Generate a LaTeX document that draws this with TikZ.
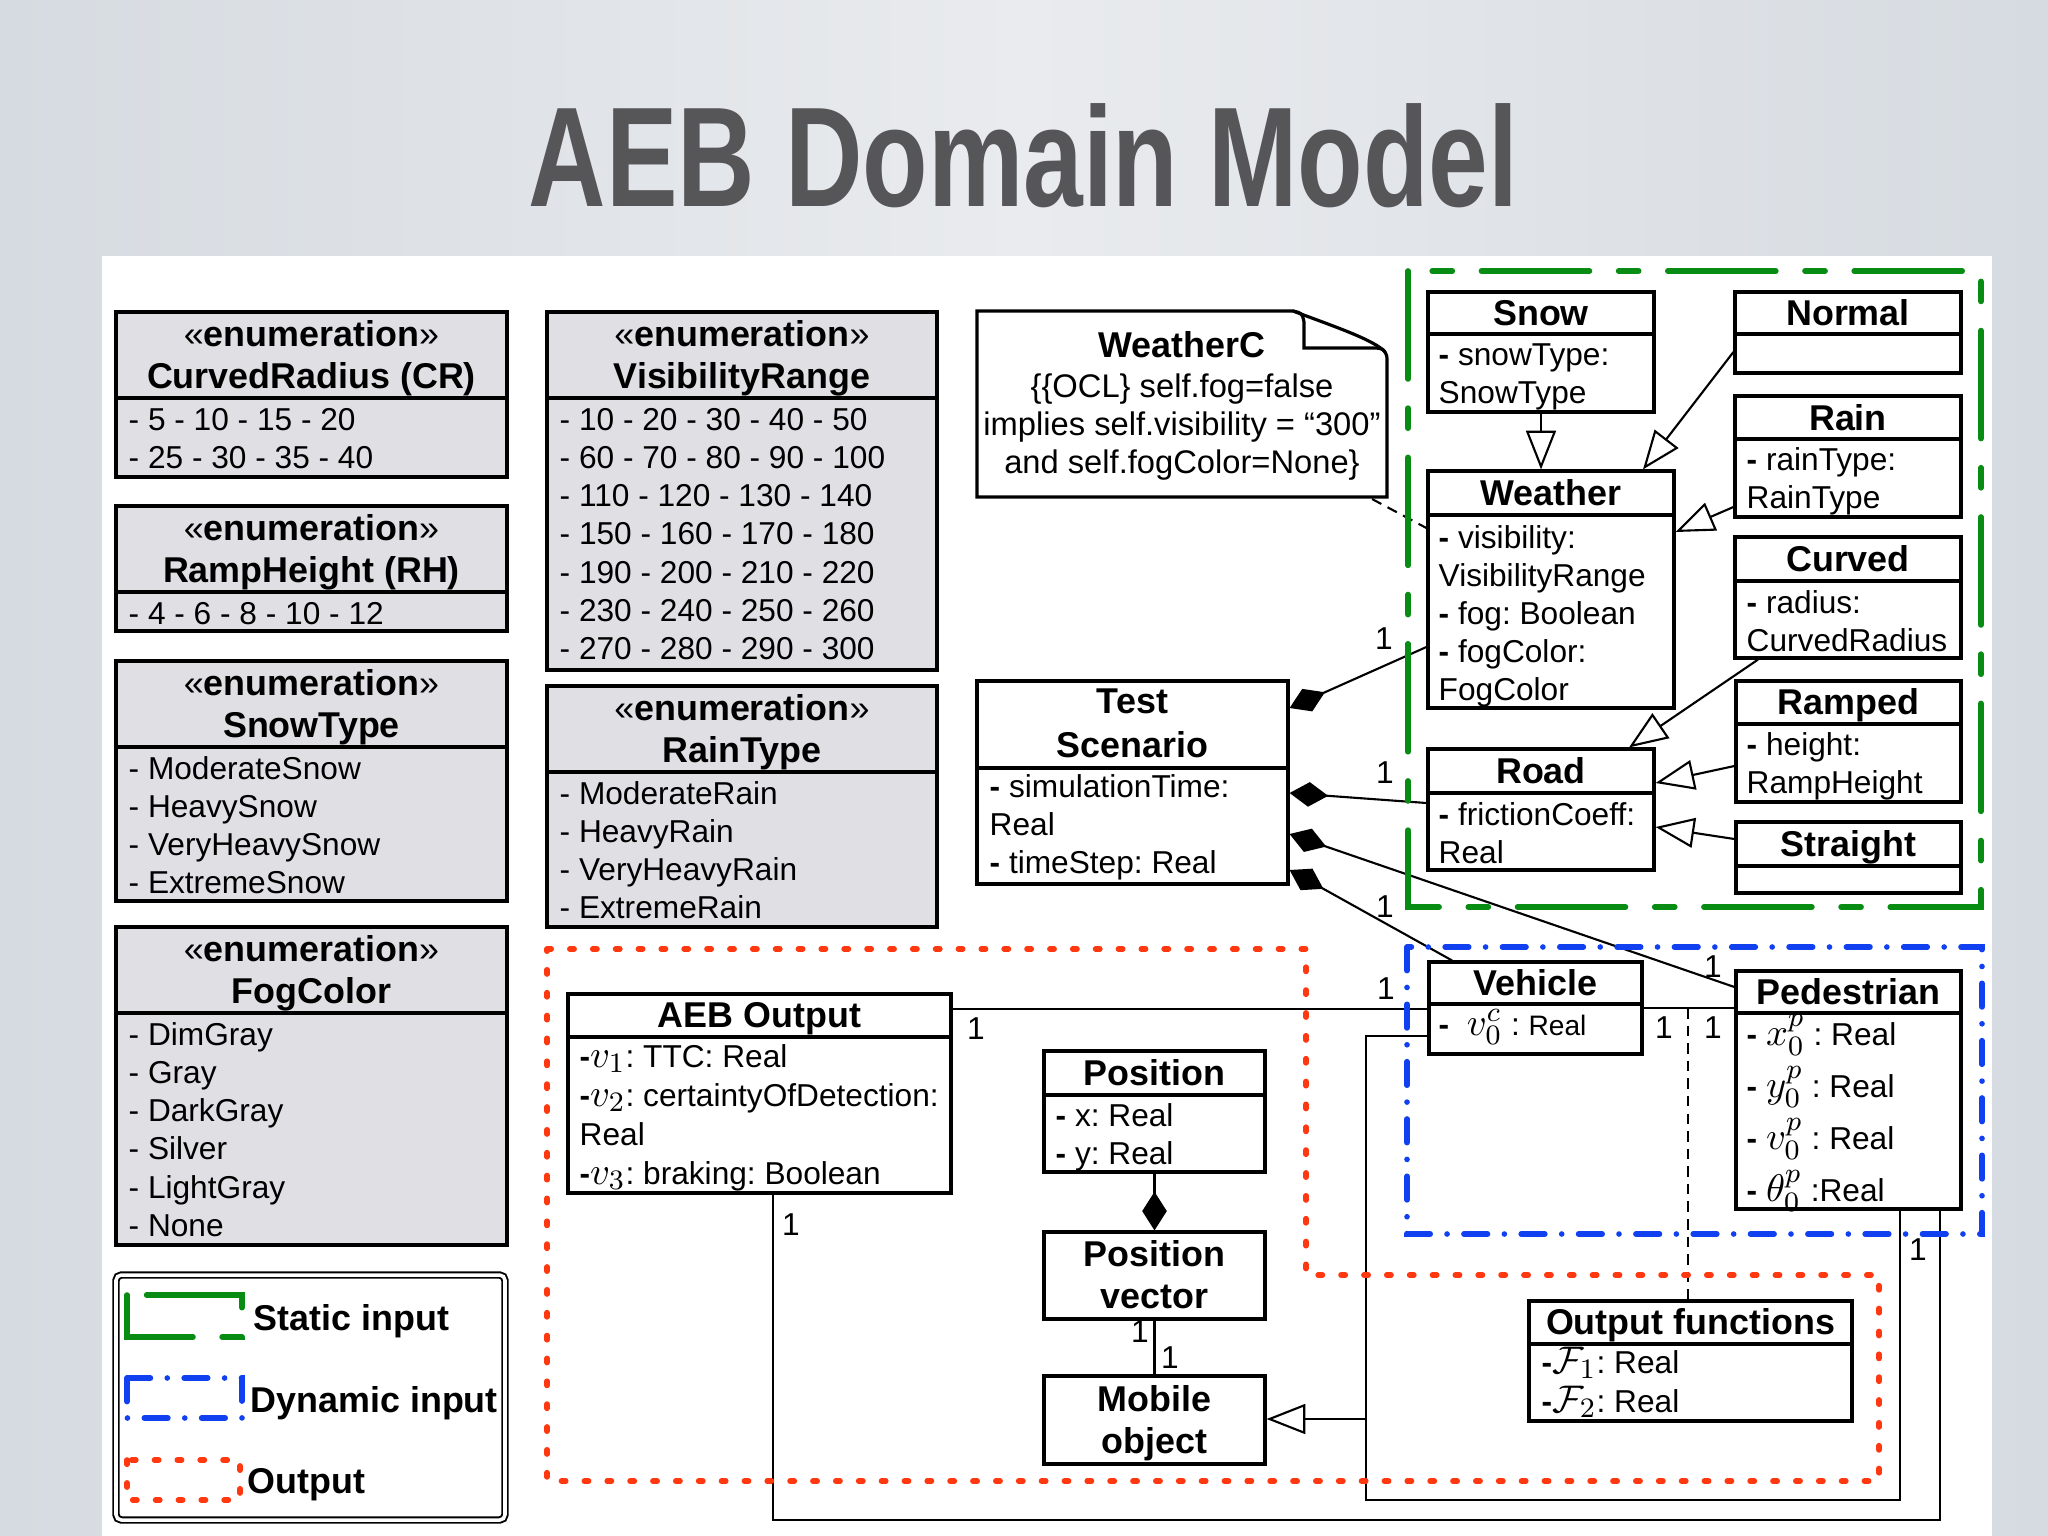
\documentclass[tikz,border=0pt]{standalone}
\usepackage{fontspec}
\setmainfont{Liberation Sans}
\usepackage{graphicx}
\usepackage{tikz}
\usetikzlibrary{positioning,arrows.meta,fit}
\frenchspacing

\definecolor{enumgray}{RGB}{224,224,228}
\definecolor{staticgreen}{RGB}{8,140,20}
\definecolor{dynblue}{RGB}{16,64,240}
\definecolor{outred}{RGB}{255,56,16}
\definecolor{titlegray}{RGB}{86,86,88}
\definecolor{slideedge}{RGB}{214,219,225}
\definecolor{slidemid}{RGB}{233,235,238}

\newcommand{\attrmath}[1]{{\fontsize{11}{13}\selectfont$#1$}}

\tikzset{
  enumbox/.style={rectangle, draw=black, line width=0.9pt, fill=enumgray, inner sep=0pt},
  classbox/.style={rectangle, draw=black, line width=0.9pt, fill=white, inner sep=0pt},
  divider/.style={line width=0.9pt},
  titletext/.style={anchor=base, inner sep=0pt, font=\fontsize{10.2}{12}\selectfont\bfseries},
  bodytext/.style={anchor=base west, inner sep=0pt, font=\fontsize{9}{11}\selectfont},
  notetext/.style={anchor=base, inner sep=0pt, font=\fontsize{9.3}{11}\selectfont},
  legendtext/.style={anchor=base west, inner sep=0pt, font=\fontsize{10.2}{12}\selectfont\bfseries},
  mult/.style={inner sep=0pt, font=\fontsize{9}{11}\selectfont},
  assoc/.style={line width=0.6pt},
  notelink/.style={line width=0.6pt, dash pattern=on 3pt off 2pt},
  genarrow/.style={line width=0.6pt, -{Triangle[length=11pt, width=8.5pt, fill=white]}},
  composite/.style={line width=0.6pt, {Diamond[length=11pt, width=7pt]}-},
  staticregion/.style={draw=staticgreen, line width=1.6pt, line cap=round, dash pattern=on 30.7pt off 8.3pt on 5.7pt off 8.3pt},
  dynregion/.style={draw=dynblue, line width=1.6pt, line cap=round, dash pattern=on 6.7pt off 4.8pt on 0pt off 4.8pt},
  outregion/.style={draw=outred, line width=1.6pt, line cap=round, dash pattern=on 1.2pt off 5.3pt}
}

\begin{document}
\begin{tikzpicture}[x=0.01cm, y=-0.01cm]
\useasboundingbox (0,0) rectangle (2048,1536);
\shade[left color=slideedge, right color=slideedge, middle color=slidemid] (0,0) rectangle (2048,1536);
\fill[white] (102,256) rectangle (1992,1536);
\node[anchor=base, inner sep=0pt, text=titlegray, font=\fontsize{40.4}{44}\selectfont\bfseries] (title) at (1023.5,206) {\scalebox{0.755}[1]{AEB Domain Model}};

% enumerations
\foreach \nm/\xa/\ya/\xb/\yb/\yd in {cr/116/312/507/477/398, rh/116/506/507/631/592, snowtype/116/661/507/901/747, fogcolor/116/927/507/1245/1013, visrange/547/312/937/670/398, raintype/547/686/937/927/772}{
\node[enumbox, fit={(\xa,\ya) (\xb,\yb)}] (\nm) {};
\draw[divider] (\xa,\yd) -- (\xb,\yd);}

% classes
\foreach \nm/\xa/\ya/\xb/\yb/\yd in {snow/1428/292/1654/412/334, normal/1735/292/1961/373/334, rain/1735/396/1961/517/439, weather/1428/471/1674/708/515, curved/1735/537/1961/658/581, ramped/1736/681/1961/802/724, road/1428/749/1654/870/793, straight/1736/822/1961/893/866, testscen/977/681/1288/884/768, vehicle/1429/962/1642/1054/1004, pedestrian/1736/971/1961/1209/1013, aebout/568/994/951/1193/1037, position/1044/1051/1265/1172/1095, outfun/1529/1301/1852/1421/1344}{
\node[classbox, fit={(\xa,\ya) (\xb,\yb)}] (\nm) {};
\draw[divider] (\xa,\yd) -- (\xb,\yd);}
\foreach \nm/\ya/\yb in {posvec/1232/1319, mobile/1376/1464}
\node[classbox, fit={(1044,\ya) (1265,\yb)}] (\nm) {};

% note
\node[fit={(977,311) (1387,497)}, inner sep=0pt] (weatherc) {};
\draw[line width=0.9pt, fill=white] (977,311) -- (1293,311) .. controls (1330,325) and (1375,340) .. (1385,352) .. controls (1387,356) .. (1387,362) -- (1387,497) -- (977,497) -- cycle;
\draw[line width=0.9pt] (1293,311) .. controls (1302,313) .. (1304,322) -- (1304,348) -- (1376,348) .. controls (1383,349) .. (1385,352);
\node[titletext] (weatherc-t) at (1182,357) {WeatherC};
\foreach \t [count=\i from 0] in {\{\{OCL\} self.fog=false, implies self.visibility = “300”, and self.fogColor=None\}}
\node[notetext] (weatherc-\i) at (1182,397+38*\i) {\t};

% titles
\foreach \x/\y [count=\i] in {311.5/346, 311.5/540, 311.5/695, 311.5/961, 742/346, 742/720}
\node[titletext] (stereo-\i) at (\x,\y) {{\mdseries«}enumeration{\mdseries»}};
\foreach \x/\y/\t [count=\i] in {311.5/388/CurvedRadius (CR), 311.5/582/RampHeight (RH), 311.5/737/SnowType, 311.5/1003/FogColor, 742/388/VisibilityRange, 742/762/RainType, 1541/325/Snow, 1848/325/Normal, 1848/430/Rain, 1551/505/Weather, 1848/571/Curved, 1848.5/714/Ramped, 1541/783/Road, 1848.5/856/Straight, 1132.5/713/Test, 1132.5/757/Scenario, 1535.5/995/Vehicle, 1848.5/1004/Pedestrian, 759.5/1027/AEB Output, 1154.5/1085/Position, 1154.5/1266/Position, 1154.5/1308/vector, 1154.5/1411/Mobile, 1154.5/1453/object, 1690.5/1334/Output functions}
\node[titletext] (title-\i) at (\x,\y) {\t};

% attributes
\foreach \t [count=\i from 0] in {- 5 - 10 - 15 - 20, - 25 - 30 - 35 - 40}
\node[bodytext] (cr-\i) at (128,430+38.3*\i) {\t};
\node[bodytext] (rh-0) at (128,624) {- 4 - 6 - 8 - 10 - 12};
\foreach \t [count=\i from 0] in {- ModerateSnow, - HeavySnow, - VeryHeavySnow, - ExtremeSnow}
\node[bodytext] (snowtype-\i) at (128,779+38.3*\i) {\t};
\foreach \t [count=\i from 0] in {- DimGray, - Gray, - DarkGray, - Silver, - LightGray, - None}
\node[bodytext] (fogcolor-\i) at (128,1045+38.3*\i) {\t};
\foreach \t [count=\i from 0] in {- 10 - 20 - 30 - 40 - 50, - 60 - 70 - 80 - 90 - 100, - 110 - 120 - 130 - 140, - 150 - 160 - 170 - 180, - 190 - 200 - 210 - 220, - 230 - 240 - 250 - 260, - 270 - 280 - 290 - 300}
\node[bodytext] (visrange-\i) at (559,430+38.3*\i) {\t};
\foreach \t [count=\i from 0] in {- ModerateRain, - HeavyRain, - VeryHeavyRain, - ExtremeRain}
\node[bodytext] (raintype-\i) at (559,804+38.3*\i) {\t};
\foreach \t [count=\i from 0] in {\textbf{-} snowType:, SnowType}
\node[bodytext] (snow-\i) at (1438,365+38*\i) {\t};
\foreach \t [count=\i from 0] in {\textbf{-} rainType:, RainType}
\node[bodytext] (rain-\i) at (1746,470+38*\i) {\t};
\foreach \t [count=\i from 0] in {\textbf{-} visibility:, VisibilityRange, \textbf{-} fog: Boolean, \textbf{-} fogColor:, FogColor}
\node[bodytext] (weather-\i) at (1438,548+38*\i) {\t};
\foreach \t [count=\i from 0] in {\textbf{-} radius:, CurvedRadius}
\node[bodytext] (curved-\i) at (1746,613+38*\i) {\t};
\foreach \t [count=\i from 0] in {\textbf{-} height:, RampHeight}
\node[bodytext] (ramped-\i) at (1746,755+38*\i) {\t};
\foreach \t [count=\i from 0] in {\textbf{-} frictionCoeff:, Real}
\node[bodytext] (road-\i) at (1438,825+38*\i) {\t};
\foreach \t [count=\i from 0] in {\textbf{-} simulationTime:, Real, \textbf{-} timeStep: Real}
\node[bodytext] (testscen-\i) at (989,797+38*\i) {\t};
\foreach \t [count=\i from 0] in {\textbf{-}\attrmath{v_1}: TTC: Real, \textbf{-}\attrmath{v_2}: certaintyOfDetection:, Real, \textbf{-}\attrmath{v_3}: braking: Boolean}
\node[bodytext] (aebout-\i) at (579,1067+39*\i) {\t};
\foreach \t [count=\i from 0] in {\textbf{-} x: Real, \textbf{-} y: Real}
\node[bodytext] (position-\i) at (1055,1126+38*\i) {\t};
\node[bodytext] (vehicle-0) at (1438,1035) {\textbf{-}\ \ \attrmath{v_0^c} : {\fontsize{8}{10}\selectfont Real}};
\foreach \t [count=\i from 0] in {\textbf{-} \attrmath{x_0^p} : Real, \textbf{-} \attrmath{y_0^p} : Real, \textbf{-} \attrmath{v_0^p} : Real, \textbf{-} \attrmath{\theta_0^p} :Real}
\node[bodytext] (pedestrian-\i) at (1746,1045+52*\i) {\t};
\foreach \t [count=\i from 0] in {\textbf{-}\attrmath{\mathcal{F}_1}: Real, \textbf{-}\attrmath{\mathcal{F}_2}: Real}
\node[bodytext] (outfun-\i) at (1541,1373+39*\i) {\t};

% connectors
\coordinate (notetail) at (1372,499);
\coordinate (assocmid) at (1688,1008);
\coordinate (outcorner) at (1940,1520);
\coordinate (gencorner) at (1366,1500);
\coordinate (genjoin) at (1366,1419);
\draw[notelink] (notetail) -- (weather.west |- 0,528);
\draw[genarrow] (snow.south) -- (snow.south |- weather.north);
\draw[genarrow] (normal.west |- 0,352) -- (weather.north -| 1643,0);
\draw[genarrow] (rain.west |- 0,507) -- (weather.east |- 0,532);
\draw[genarrow] (curved.south -| 1758,0) -- (road.north -| 1629,0);
\draw[genarrow] (ramped.west |- 0,766) -- (road.east |- 0,783);
\draw[genarrow] (straight.west |- 0,839) -- (road.east |- 0,827);
\draw[composite] (testscen.east |- 0,708) -- (weather.west |- 0,647);
\draw[composite] (testscen.east |- 0,793) -- (road.west |- 0,803);
\draw[composite] (testscen.east |- 0,834) -- (pedestrian.west |- 0,987);
\draw[composite] (testscen.east |- 0,870) -- (vehicle.north -| 1452,0);
\draw[assoc] (aebout.east |- 0,1009) -- (vehicle.west |- 0,1009);
\draw[assoc] (vehicle.east |- assocmid) -- (pedestrian.west |- assocmid);
\draw[notelink] (assocmid) -- (outfun.north -| assocmid);
\draw[assoc] (aebout.south -| 773,0) |- (outcorner) -- (pedestrian.south -| outcorner);
\draw[assoc] (vehicle.west |- 0,1036) -| (gencorner) -| (pedestrian.south -| 1900,0);
\draw[genarrow] (genjoin) -- (mobile.east |- genjoin);
\draw[composite] (posvec.north) -- (position.south);
\draw[assoc] (posvec.south) -- (mobile.north);

\foreach \x/\y [count=\i] in {1384/639, 1385/773, 1385/907, 1713/967, 1386/989, 976/1029, 791/1225, 1664/1028, 1713/1028, 1918/1250, 1140/1332, 1170/1358}
\node[mult] (m-\i) at (\x,\y) {1};

% regions
\draw[staticregion] (1408,271) rectangle (1981,907);
\draw[dynregion] (1407,947) rectangle (1982,1234);
\draw[outregion] (547,949) -- (1306,949) -- (1306,1275) -- (1879,1275) -- (1879,1481) -- (547,1481) -- cycle;

% legend
\node[fit={(116,1275) (505,1520)}, draw, line width=0.55pt, double, double distance=1pt, rounded corners=1.5pt, inner sep=0pt] (legend) {};
\draw[staticregion] (127,1295) rectangle (242,1337);
\draw[dynregion] (127,1378) rectangle (242,1418);
\draw[outregion] (127,1460) rectangle (240,1500);
\node[legendtext] (leg-static) at (253,1330) {Static input};
\node[legendtext] (leg-dyn) at (250,1412) {Dynamic input};
\node[legendtext] (leg-out) at (247,1493) {Output};
\end{tikzpicture}
\end{document}
